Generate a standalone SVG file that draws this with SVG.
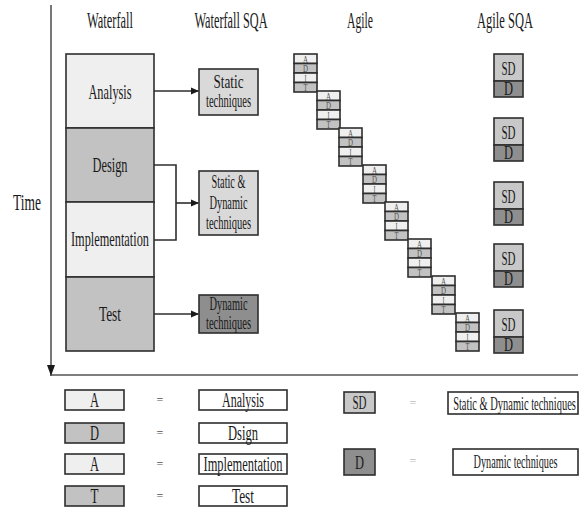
<svg xmlns="http://www.w3.org/2000/svg" xmlns:xlink="http://www.w3.org/1999/xlink" width="583" height="509" viewBox="0 0 583 509">
<style>
text{font-family:"Liberation Serif","Times New Roman",serif;fill:#1a1a1a;text-anchor:middle}
.hd{font-size:23px}
.bx{font-size:22px}
.tq{font-size:18px}
.sm{font-size:18px}
.lg{font-size:20px}
.lr{font-size:19px}
.tiny{font-size:11px;fill:#555}
.eq{font-size:12px;fill:#555}
.eqg{font-size:12px;fill:#bbb}
.s{stroke:#2e2e2e;stroke-width:1.6}
.light{fill:#efefef}
.mid{fill:#c2c2c2}
.sqa{fill:#d9d9d9}
.dark{fill:#8e8e8e}
.white{fill:#fff}
.ln{stroke:#2e2e2e;stroke-width:1.6;fill:none}
.ax{stroke:#555;stroke-width:1.6;fill:none}
</style>
<defs>
<marker id="ah" markerWidth="8" markerHeight="8" refX="7" refY="4" orient="auto" markerUnits="userSpaceOnUse">
<path d="M0,0.5 L8,4 L0,7.5 Z" fill="#1a1a1a"/>
</marker>
<marker id="axh" markerWidth="10" markerHeight="12" refX="5" refY="11" orient="0" markerUnits="userSpaceOnUse">
<path d="M1,0 L9,0 L5,11 Z" fill="#1a1a1a"/>
</marker>
<g id="blk">
<rect x="0" y="0" width="23" height="9.5" class="light s"/>
<rect x="0" y="9.5" width="23" height="9.5" class="mid s"/>
<rect x="0" y="19" width="23" height="9.5" class="light s"/>
<rect x="0" y="28.5" width="23" height="9.5" class="mid s"/>
<text x="11.5" y="8.5" class="tiny" textLength="5" lengthAdjust="spacingAndGlyphs">A</text>
<text x="11.5" y="18" class="tiny" textLength="5" lengthAdjust="spacingAndGlyphs">D</text>
<text x="11.5" y="27.5" class="tiny" textLength="2" lengthAdjust="spacingAndGlyphs">I</text>
<text x="11.5" y="37" class="tiny" textLength="4" lengthAdjust="spacingAndGlyphs">T</text>
</g>
<g id="sqa">
<rect x="0" y="0" width="29" height="27" fill="#c8c8c8" class="s"/>
<rect x="0" y="27" width="29" height="16" class="dark s"/>
<text x="14.5" y="20.5" class="sm" textLength="14" lengthAdjust="spacingAndGlyphs">SD</text>
<text x="14.5" y="41" class="sm" textLength="9" lengthAdjust="spacingAndGlyphs">D</text>
</g>
</defs>

<g id="axes">
<line x1="51" y1="5" x2="51" y2="376" class="ax" marker-end="url(#axh)"/>
<line x1="51" y1="375" x2="578" y2="375" class="ax"/>
</g>

<g id="headers">
<text x="110" y="28" class="hd" textLength="46" lengthAdjust="spacingAndGlyphs">Waterfall</text>
<text x="231" y="28" class="hd" textLength="73" lengthAdjust="spacingAndGlyphs">Waterfall SQA</text>
<text x="360" y="28" class="hd" textLength="26" lengthAdjust="spacingAndGlyphs">Agile</text>
<text x="505" y="28" class="hd" textLength="56" lengthAdjust="spacingAndGlyphs">Agile SQA</text>
<text x="27" y="210" class="hd" textLength="28" lengthAdjust="spacingAndGlyphs">Time</text>
</g>

<g id="wf-analysis">
<rect x="66" y="54" width="88" height="74" class="light s"/>
<text x="110" y="99" class="bx" textLength="43" lengthAdjust="spacingAndGlyphs">Analysis</text>
</g>
<g id="wf-design">
<rect x="66" y="128" width="88" height="74" class="mid s"/>
<text x="110" y="172" class="bx" textLength="35" lengthAdjust="spacingAndGlyphs">Design</text>
</g>
<g id="wf-implementation">
<rect x="66" y="202" width="88" height="75" class="light s"/>
<text x="110" y="246" class="bx" textLength="78" lengthAdjust="spacingAndGlyphs">Implementation</text>
</g>
<g id="wf-test">
<rect x="66" y="277" width="88" height="74" class="mid s"/>
<text x="110" y="321" class="bx" textLength="22" lengthAdjust="spacingAndGlyphs">Test</text>
</g>

<g id="sqa-static">
<rect x="199" y="69" width="59" height="46" class="sqa s"/>
<text x="228.5" y="88" class="tq" textLength="30" lengthAdjust="spacingAndGlyphs">Static</text>
<text x="228.5" y="107" class="tq" textLength="45" lengthAdjust="spacingAndGlyphs">techniques</text>
</g>
<g id="sqa-static-dynamic">
<rect x="199" y="171" width="59" height="64" class="sqa s"/>
<text x="228.5" y="188" class="tq" textLength="34" lengthAdjust="spacingAndGlyphs">Static &amp;</text>
<text x="228.5" y="209" class="tq" textLength="38" lengthAdjust="spacingAndGlyphs">Dynamic</text>
<text x="228.5" y="229" class="tq" textLength="45" lengthAdjust="spacingAndGlyphs">techniques</text>
</g>
<g id="sqa-dynamic">
<rect x="199" y="295" width="59" height="38" class="dark s"/>
<text x="228.5" y="310" class="tq" textLength="38" lengthAdjust="spacingAndGlyphs">Dynamic</text>
<text x="228.5" y="329" class="tq" textLength="45" lengthAdjust="spacingAndGlyphs">techniques</text>
</g>

<g id="connectors">
<line x1="154" y1="91" x2="198" y2="91" class="ln" marker-end="url(#ah)"/>
<path d="M154,165 H176 V240 H154" class="ln"/>
<line x1="176" y1="203" x2="198" y2="203" class="ln" marker-end="url(#ah)"/>
<line x1="154" y1="314" x2="198" y2="314" class="ln" marker-end="url(#ah)"/>
</g>

<g id="agile-1"><use xlink:href="#blk" href="#blk" x="294" y="54"/></g>
<g id="agile-2"><use xlink:href="#blk" href="#blk" x="317" y="91"/></g>
<g id="agile-3"><use xlink:href="#blk" href="#blk" x="339" y="128"/></g>
<g id="agile-4"><use xlink:href="#blk" href="#blk" x="363" y="165"/></g>
<g id="agile-5"><use xlink:href="#blk" href="#blk" x="385" y="202"/></g>
<g id="agile-6"><use xlink:href="#blk" href="#blk" x="408" y="239"/></g>
<g id="agile-7"><use xlink:href="#blk" href="#blk" x="432" y="276"/></g>
<g id="agile-8"><use xlink:href="#blk" href="#blk" x="456" y="313"/></g>

<g id="agsqa-1"><use xlink:href="#sqa" href="#sqa" x="494" y="54"/></g>
<g id="agsqa-2"><use xlink:href="#sqa" href="#sqa" x="494" y="118"/></g>
<g id="agsqa-3"><use xlink:href="#sqa" href="#sqa" x="494" y="182"/></g>
<g id="agsqa-4"><use xlink:href="#sqa" href="#sqa" x="494" y="244"/></g>
<g id="agsqa-5"><use xlink:href="#sqa" href="#sqa" x="494" y="310"/></g>

<g id="legend-a">
<rect x="65" y="390" width="59" height="20" class="light s"/>
<text x="94.5" y="407" class="lg" textLength="9" lengthAdjust="spacingAndGlyphs">A</text>
<text x="160" y="404" class="eq">=</text>
<rect x="199" y="390" width="88" height="20" class="white s"/>
<text x="243" y="407" class="lg" textLength="42" lengthAdjust="spacingAndGlyphs">Analysis</text>
</g>
<g id="legend-d">
<rect x="65" y="423" width="59" height="20" class="mid s"/>
<text x="94.5" y="440" class="lg" textLength="9" lengthAdjust="spacingAndGlyphs">D</text>
<text x="160" y="437" class="eq">=</text>
<rect x="199" y="423" width="88" height="20" class="white s"/>
<text x="243" y="440" class="lg" textLength="30" lengthAdjust="spacingAndGlyphs">Dsign</text>
</g>
<g id="legend-i">
<rect x="65" y="454" width="59" height="20" class="light s"/>
<text x="94.5" y="471" class="lg" textLength="9" lengthAdjust="spacingAndGlyphs">A</text>
<text x="160" y="468" class="eq">=</text>
<rect x="199" y="454" width="88" height="20" class="white s"/>
<text x="243" y="471" class="lg" textLength="79" lengthAdjust="spacingAndGlyphs">Implementation</text>
</g>
<g id="legend-t">
<rect x="65" y="486" width="59" height="20" class="mid s"/>
<text x="94.5" y="503" class="lg" textLength="8" lengthAdjust="spacingAndGlyphs">T</text>
<text x="160" y="500" class="eq">=</text>
<rect x="199" y="486" width="88" height="20" class="white s"/>
<text x="243" y="503" class="lg" textLength="22" lengthAdjust="spacingAndGlyphs">Test</text>
</g>
<g id="legend-sd">
<rect x="344" y="392" width="31" height="21" fill="#c8c8c8" class="s"/>
<text x="359.5" y="409" class="lr" textLength="14" lengthAdjust="spacingAndGlyphs">SD</text>
<text x="413" y="407" class="eqg">=</text>
<rect x="448" y="392" width="130" height="22" class="white s"/>
<text class="lr" transform="translate(514.5,409.5) scale(0.55,1)">Static &amp; Dynamic techniques</text>
</g>
<g id="legend-dyn">
<rect x="344" y="449" width="31" height="26" class="dark s"/>
<text x="359.5" y="468.5" class="lr" textLength="9" lengthAdjust="spacingAndGlyphs">D</text>
<text x="413" y="465" class="eqg">=</text>
<rect x="453" y="449" width="125" height="26" class="white s"/>
<text class="lr" transform="translate(515.5,467.5) scale(0.54,1)">Dynamic techniques</text>
</g>
</svg>
